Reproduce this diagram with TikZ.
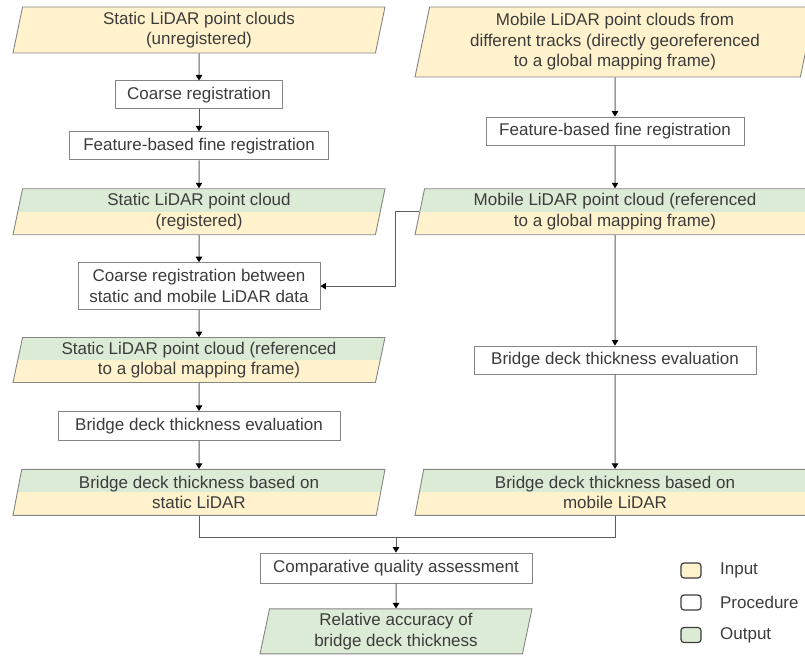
\documentclass[tikz,border=0pt]{standalone}
\usepackage{fontspec}
\setmainfont{Liberation Sans}
\usetikzlibrary{arrows.meta,positioning,shapes.geometric}
\definecolor{inyellow}{HTML}{FFF2CC}
\definecolor{outgreen}{HTML}{DCEBD5}
\definecolor{edge}{HTML}{858585}
\definecolor{ink}{HTML}{3C3C3C}

\begin{document}
\begin{tikzpicture}[
  x=1pt, y=-1pt,
  font=\fontsize{17}{20.5}\selectfont,
  node distance=27pt,
  every node/.style={text=ink},
  box/.style={draw=edge, line width=0.9pt, fill=white, align=center, minimum height=28pt, inner sep=2pt},
  io/.style={trapezium, trapezium left angle=76, trapezium right angle=104, trapezium stretches body,
    draw=edge, line width=0.9pt, fill=inyellow, align=center, inner sep=1pt, minimum height=46pt, minimum width=372pt},
  both/.style={io, path picture={\fill[outgreen] (path picture bounding box.north west) rectangle (path picture bounding box.east);}},
  outp/.style={io, fill=outgreen},
  line/.style={draw=edge!70!black, line width=1pt},
  arr/.style={line, -{Triangle[width=6.5pt,length=5.5pt,black]}},
  key/.style={draw=ink, line width=1.2pt, rounded corners=3pt, minimum width=20pt, minimum height=15pt, inner sep=0pt}
]
\useasboundingbox (0,0) rectangle (805,656);
\clip (0,0) rectangle (805,656);

% static branch
\node[io] (sraw) at (199,30) {Static LiDAR point clouds\\(unregistered)};
\node[box, minimum width=167pt, below=of sraw] (coarse) {Coarse registration};
\node[box, minimum width=259pt, below=22pt of coarse] (sfine) {Feature-based fine registration};
\node[both, below=28pt of sfine] (sreg) {Static LiDAR point cloud\\(registered)};
\node[box, minimum width=242pt, minimum height=47pt, below=of sreg] (between) {Coarse registration between\\static and mobile LiDAR data};
\node[both, minimum height=45pt, below=of between] (sref) {Static LiDAR point cloud (referenced\\to a global mapping frame)};
\node[box, minimum width=282pt, minimum height=29pt, below=28pt of sref] (seval) {Bridge deck thickness evaluation};
\node[both, below=28pt of seval] (sthick) {Bridge deck thickness based on\\static LiDAR};

% mobile branch
\node[io, minimum width=400pt, minimum height=70pt] (mraw) at (615,42) {Mobile LiDAR point clouds from\\different tracks (directly georeferenced\\to a global mapping frame)};
\node[box, minimum width=258pt] (mfine) at (615,131) {Feature-based fine registration};
\node[both, minimum width=400pt] (mref) at (mraw |- sreg) {Mobile LiDAR point cloud (referenced\\to a global mapping frame)};
\node[box, minimum width=282pt] (meval) at (mraw |- sref) {Bridge deck thickness evaluation};
\node[both, minimum width=400pt] (mthick) at (mraw |- sthick) {Bridge deck thickness based on\\mobile LiDAR};

% comparison
\node[box, minimum width=272pt, minimum height=30pt] (comp) at (396,568) {Comparative quality assessment};
\node[outp, minimum width=272pt, minimum height=45pt, below=25pt of comp] (relacc) {Relative accuracy of\\bridge deck thickness};

% legend
\node[key, fill=inyellow] (kin) at (691,570.5) {};
\node[right=15pt of kin] (kinl) {Input};
\node[key, fill=white] (kproc) at (691,602.5) {};
\node[right=15pt of kproc] (kprocl) {Procedure};
\node[key, fill=outgreen] (kout) at (691,635) {};
\node[right=15pt of kout] (koutl) {Output};

\draw[arr] (sraw) -- (coarse);
\draw[arr] (coarse) -- (sfine);
\draw[arr] (sfine) -- (sreg);
\draw[arr] (sreg) -- (between);
\draw[arr] (between) -- (sref);
\draw[arr] (sref) -- (seval);
\draw[arr] (seval) -- (sthick);

\draw[arr] (mraw) -- (mfine);
\draw[arr] (mfine) -- (mref);
\draw[arr] (mref) -- (meval);
\draw[arr] (meval) -- (mthick);
\draw[arr] (mref.west) -- ++(-24,0) |- (between);

\draw[line] (sthick.south) -- ++(0,22) coordinate (bus) -| (mthick.south);
\draw[arr] (bus -| comp.north) -- (comp);
\draw[arr] (comp) -- (relacc);
\end{tikzpicture}
\end{document}
